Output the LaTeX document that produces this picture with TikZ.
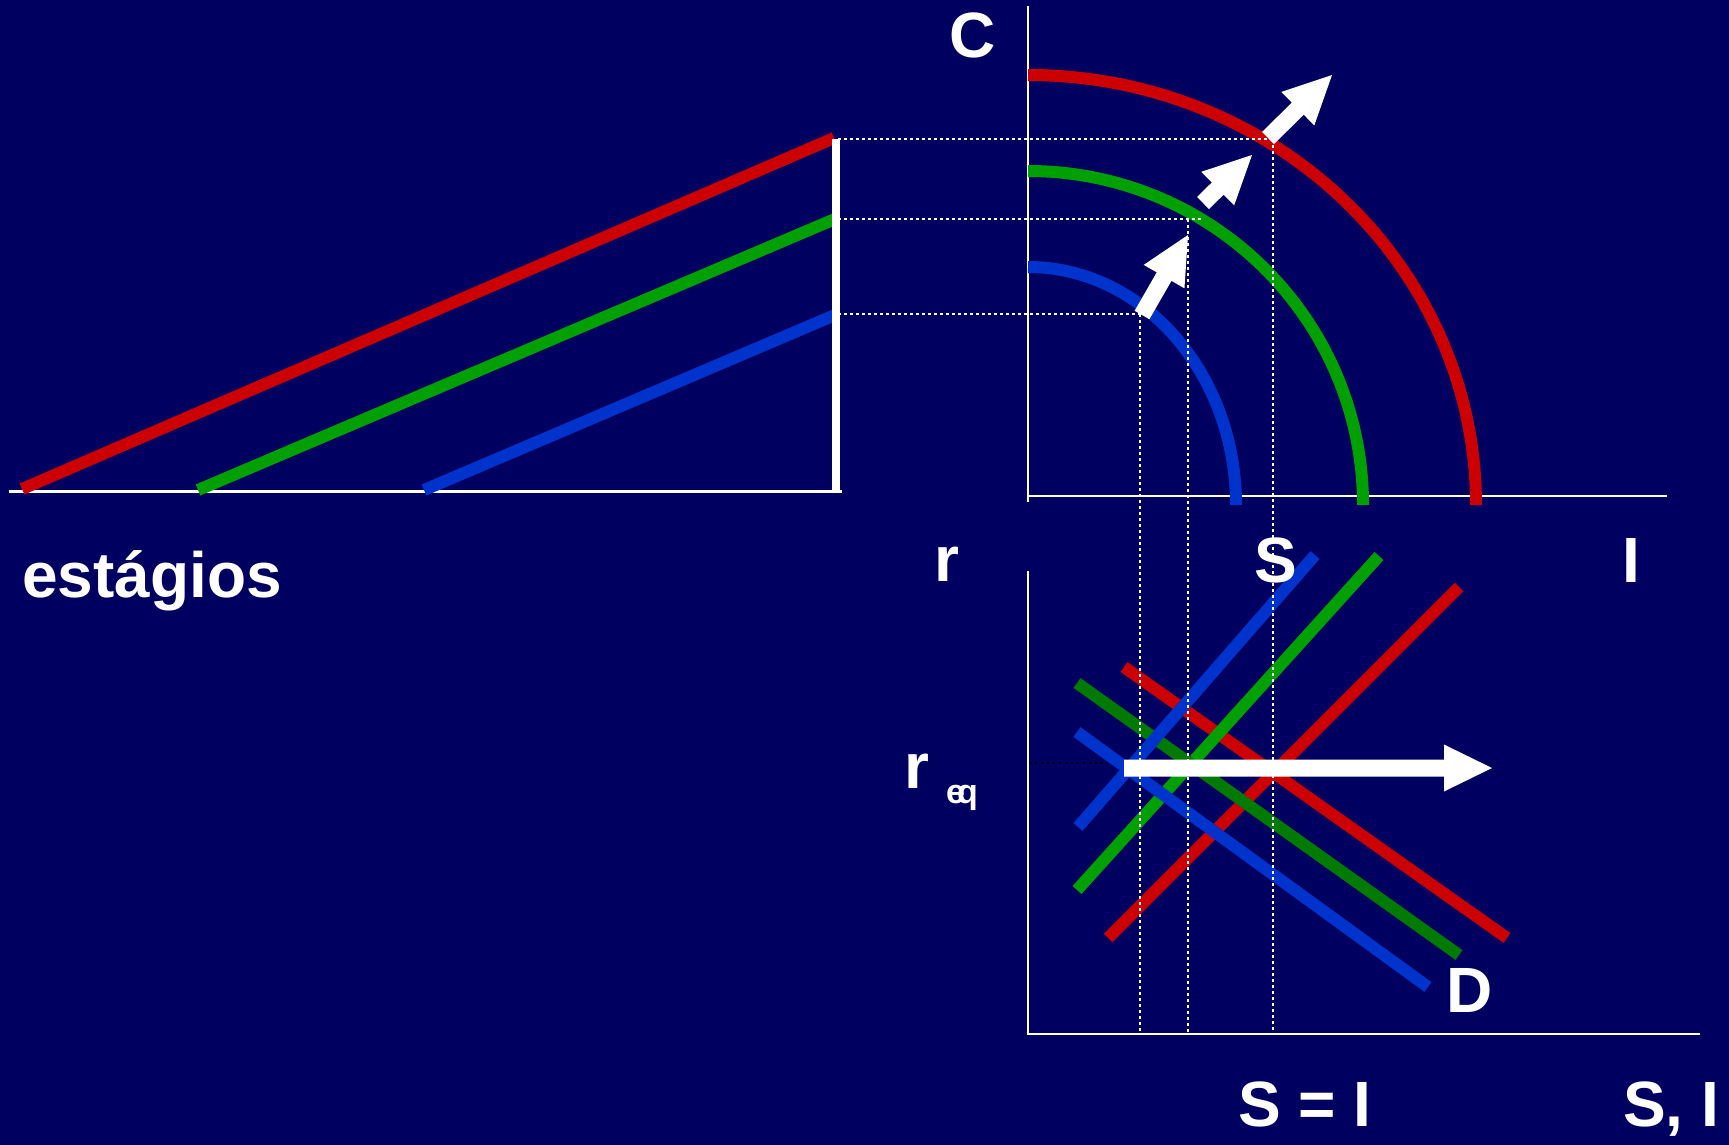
\documentclass[tikz,border=0pt]{standalone}
\usepackage{fontspec}
\setmainfont{Liberation Sans}
\usetikzlibrary{calc}
\definecolor{bg}{RGB}{0,0,96}
\definecolor{cred}{RGB}{204,0,0}
\definecolor{cgreen}{RGB}{0,160,0}
\definecolor{cdkgreen}{RGB}{0,122,0}
\definecolor{cblue}{RGB}{0,51,204}
\newcommand\fatarrow[2]{%
  \coordinate (#2h) at ($(#2)!48pt!(#1)$);
  \fill[white] ($(#1)!8.5pt!90:(#2)$) -- ($(#2h)!8.5pt!90:(#2)$) -- ($(#2h)!23.5pt!90:(#2)$) -- (#2)
    -- ($(#2h)!23.5pt!-90:(#2)$) -- ($(#2h)!8.5pt!-90:(#2)$) -- ($(#1)!8.5pt!-90:(#2)$) -- cycle;}
\tikzset{
  axisline/.style={white, line width=2.5pt},
  curve/.style={line width=12pt, line cap=butt},
  guide/.style={white, line width=2.2pt, dash pattern=on 3pt off 3pt},
  lbl/.style={text=white, inner sep=0pt, anchor=base, font=\fontsize{64}{70}\selectfont\bfseries},
  sublbl/.style={text=white, inner sep=0pt, anchor=base, font=\fontsize{34}{38}\selectfont\bfseries},
}
\begin{document}
\begin{tikzpicture}[x=1pt, y=-1pt]
\fill[bg] (0,0) rectangle (1729,1145);
\useasboundingbox (0,0) rectangle (1729,1145);

% ---------- left panel ----------
\coordinate (lb0) at (9,491);
\coordinate (lb1) at (842,491);
\coordinate (vb0) at (836,139);
\coordinate (vb1) at (836,491);
\coordinate (rl0) at (22,489);
\coordinate (rl1) at (834,138);
\coordinate (gl0) at (198,490);
\coordinate (gl1) at (835,219);
\coordinate (bl0) at (424,490);
\coordinate (bl1) at (835,315);
\draw[white, line width=3pt] (lb0) -- (lb1);
\draw[curve, cred] (rl0) -- (rl1);
\draw[curve, cgreen] (gl0) -- (gl1);
\draw[curve, cblue] (bl0) -- (bl1);
\draw[white, line width=8pt] (vb0) -- (vb1);

% ---------- top-right panel ----------
\coordinate (ca0) at (1028,6);
\coordinate (ca1) at (1028,502);
\coordinate (ha0) at (1028,496);
\coordinate (ha1) at (1667,496);
\draw[axisline] (ca0) -- (ca1);
\draw[axisline] (ha0) -- (ha1);

% quarter-ellipse arcs (center 1028,505)
\coordinate (rt) at (1028,75);
\coordinate (re) at (1476,505);
\coordinate (gt) at (1028,171);
\coordinate (ge) at (1363,505);
\coordinate (bt) at (1028,267);
\coordinate (be) at (1236,505);
\draw[curve, cred] (rt) .. controls (1275.4,75) and (1476,267.5) .. (re);
\draw[curve, cgreen] (gt) .. controls (1213.0,171) and (1363,320.5) .. (ge);
\draw[curve, cblue] (bt) .. controls (1142.9,267) and (1236,373.6) .. (be);

% ---------- lower panel ----------
\coordinate (la0) at (1028,571);
\coordinate (la1) at (1028,1035);
\coordinate (lh0) at (1028,1034);
\coordinate (lh1) at (1700,1034);
\draw[axisline] (la0) -- (la1);
\draw[axisline] (lh0) -- (lh1);

\coordinate (rs0) at (1108,938);
\coordinate (rs1) at (1459,587);
\coordinate (rd0) at (1124,667);
\coordinate (rd1) at (1507,938);
\coordinate (gs0) at (1077,890);
\coordinate (gs1) at (1379,556);
\coordinate (gd0) at (1077,683);
\coordinate (gd1) at (1459,955);
\coordinate (bs0) at (1078,827);
\coordinate (bs1) at (1315,555);
\coordinate (bd0) at (1077,732);
\coordinate (bd1) at (1428,987);
\draw[curve, cred] (rs0) -- (rs1);
\draw[curve, cred] (rd0) -- (rd1);
\draw[curve, cgreen] (gs0) -- (gs1);
\draw[curve, cdkgreen] (gd0) -- (gd1);
\draw[curve, cblue] (bs0) -- (bs1);
\draw[curve, cblue] (bd0) -- (bd1);

% black dotted r_eq guide
\coordinate (eq0) at (1029,763);
\coordinate (eq1) at (1108,763);
\draw[black, line width=2pt, dash pattern=on 2pt off 4pt] (eq0) -- (eq1);

% white horizontal arrow
\coordinate (ws) at (1124,768);
\coordinate (we) at (1492,768);
\fatarrow{ws}{we}

% ---------- dotted guides ----------
\coordinate (dr0) at (838,139);
\coordinate (dr1) at (1273,139);
\coordinate (dr2) at (1273,1034);
\coordinate (dg0) at (838,219);
\coordinate (dg1) at (1203,219);
\coordinate (dgv0) at (1188,219);
\coordinate (dgv1) at (1188,1034);
\coordinate (db0) at (838,314);
\coordinate (db1) at (1140,314);
\coordinate (db2) at (1140,1034);
\draw[guide] (dr0) -- (dr1);
\draw[guide] (dr1) -- (dr2);
\draw[guide] (dg0) -- (dg1);
\draw[guide] (dgv0) -- (dgv1);
\draw[guide] (db0) -- (db1);
\draw[guide] (db1) -- (db2);

% white shift arrows
\coordinate (a1s) at (1142,315);
\coordinate (a1e) at (1188,235);
\coordinate (a2s) at (1203,203);
\coordinate (a2e) at (1252,155);
\coordinate (a3s) at (1268,138);
\coordinate (a3e) at (1332,75);
\fatarrow{a1s}{a1e}
\fatarrow{a2s}{a2e}
\fatarrow{a3s}{a3e}

% ---------- labels ----------
\node[lbl] (lC) at (973,58) {C};
\node[lbl] (lr) at (947,581) {r};
\node[lbl] (lS) at (1276,582) {S};
\node[lbl] (lI) at (1631,582) {I};
\node[lbl] (lest) at (152,597) {estágios};
\node[lbl] (lreq) at (917,788) {r};
\node[sublbl] (leq) at (962,803) {e\kern-8pt q};
\node[lbl] (lD) at (1470,1012) {D};
\node[lbl] (lSI) at (1305,1126) {S = I};
\node[lbl] (lSc) at (1671,1126) {S, I};
\end{tikzpicture}
\end{document}
